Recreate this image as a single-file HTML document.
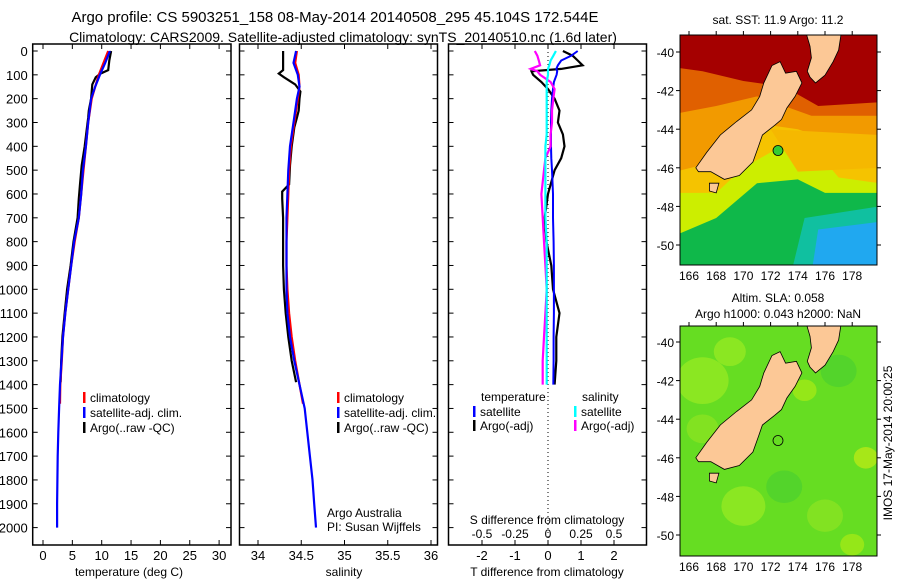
<!DOCTYPE html>
<html><head><meta charset="utf-8"><style>
html,body{margin:0;padding:0;background:#fff;}
svg text{font-family:"Liberation Sans",sans-serif;fill:#000;}
</style></head><body>
<svg id="fig" xmlns="http://www.w3.org/2000/svg" width="900" height="580" viewBox="0 0 900 580">
<text x="335" y="22" font-size="15" text-anchor="middle">Argo profile: CS 5903251_158 08-May-2014 20140508_295 45.104S 172.544E</text>
<text x="343" y="42" font-size="14" text-anchor="middle">Climatology: CARS2009. Satellite-adjusted climatology: synTS_20140510.nc (1.6d later)</text>
<g id="p1"></g>
<g id="p2"></g>
<g id="p3"></g>
<g id="m1"></g>
<g id="m2"></g>
<text x="778" y="24" font-size="12" text-anchor="middle">sat. SST: 11.9 Argo: 11.2</text>
<text x="778" y="302" font-size="12" text-anchor="middle">Altim. SLA: 0.058</text>
<text x="778" y="318" font-size="12" text-anchor="middle">Argo h1000: 0.043 h2000: NaN</text>
<text transform="translate(892,443) rotate(-90)" font-size="12" text-anchor="middle">IMOS 17-May-2014 20:00:25</text>
</svg>
<script>
// ---- data ----
const depthTicks=[0,100,200,300,400,500,600,700,800,900,1000,1100,1200,1300,1400,1500,1600,1700,1800,1900,2000];
const tempTicks=[0,5,10,15,20,25,30];
const salTicks=[34,34.5,35,35.5,36];
const tdiffTicks=[-2,-1,0,1,2];
const sdiffTicks=[-0.5,-0.25,0,0.25,0.5];
const sdiffLabels=["-0.5","-0.25","0","0.25","0.5"];
const climDepth=[0,50,100,150,200,300,400,500,600,700,800,900,1000,1100,1200,1300,1400,1480];
const climTemp=[11.1,10.3,9.5,8.9,8.3,7.7,7.3,6.9,6.5,6.1,5.4,4.8,4.3,3.8,3.4,3.2,2.95,2.9];
const climSal=[34.45,34.43,34.47,34.48,34.46,34.42,34.38,34.36,34.35,34.34,34.33,34.33,34.34,34.36,34.39,34.43,34.48,34.52];
const satDepth=[0,50,100,150,200,300,400,500,600,700,800,900,1000,1100,1200,1300,1400,1500,1600,1700,1800,1900,2000];
const satTemp=[11.4,10.6,9.7,8.9,8.2,7.7,7.3,6.8,6.5,6.1,5.3,4.8,4.3,3.8,3.4,3.15,2.9,2.75,2.6,2.5,2.45,2.4,2.4];
const satSal=[34.44,34.41,34.46,34.48,34.45,34.41,34.37,34.35,34.34,34.33,34.33,34.33,34.33,34.34,34.37,34.42,34.48,34.54,34.57,34.6,34.63,34.65,34.67];
const argoDepth=[0,40,80,95,110,140,170,200,250,280,320,400,480,560,590,620,700,800,900,1000,1100,1200,1300,1390];
const argoTemp=[11.6,11.3,11.1,9.8,9.0,8.4,8.3,8.2,7.8,7.7,7.5,7.1,6.6,6.3,6.2,6.1,5.9,5.2,4.7,4.1,3.7,3.3,3.1,3.0];
const argoSal=[34.29,34.29,34.29,34.24,34.3,34.43,34.49,34.48,34.47,34.45,34.42,34.39,34.37,34.36,34.28,34.28,34.29,34.29,34.29,34.3,34.32,34.35,34.39,34.44];
const dDepth=[0,20,40,60,75,85,100,130,160,200,250,300,350,400,450,500,600,700,800,900,1000,1100,1200,1300,1400];
const dTempArgo=[0.45,0.75,0.9,1.05,0.4,-0.5,-0.45,-0.2,0.0,0.2,0.35,0.3,0.45,0.5,0.4,0.2,0.0,-0.1,-0.05,0.1,0.15,0.35,0.25,0.25,0.2];
const dTempSat=[0.9,0.7,0.4,0.3,0.25,0.28,0.26,0.18,0.15,0.12,0.1,0.09,0.09,0.09,0.1,0.12,0.15,0.15,0.17,0.18,0.18,0.18,0.17,0.17,0.16];
const dSalSat=[0.06,0.04,0.02,0.01,0.0,0.0,0.0,-0.01,-0.01,-0.01,-0.01,-0.01,-0.01,-0.02,-0.02,-0.02,-0.02,-0.02,-0.01,-0.01,-0.01,-0.01,-0.01,-0.01,-0.01];
const dSalArgo=[-0.1,-0.08,-0.07,-0.06,-0.13,-0.08,-0.06,0.02,0.05,0.04,0.03,0.03,0.02,0.02,-0.02,-0.03,-0.05,-0.04,-0.03,-0.02,-0.01,-0.02,-0.03,-0.04,-0.04];
const latTicks=[-40,-42,-44,-46,-48,-50];
const lonTicks=[166,168,170,172,174,176,178];
const southIsland=[[166.5,-46.0],[167.3,-45.2],[168.3,-44.3],[169.5,-43.6],[170.6,-43.0],[171.2,-42.3],[171.5,-41.6],[172.1,-40.7],[172.7,-40.5],[173.1,-41.1],[173.9,-41.0],[174.3,-41.6],[173.8,-42.3],[173.2,-42.9],[172.8,-43.5],[172.3,-43.8],[171.4,-44.3],[171.1,-44.9],[170.7,-45.7],[169.7,-46.4],[168.6,-46.6],[167.6,-46.2],[166.7,-46.2]];
const northIsland=[[174.6,-39.0],[174.9,-39.7],[175.0,-40.3],[174.7,-41.0],[174.9,-41.3],[175.3,-41.6],[176.0,-41.2],[176.6,-40.5],[177.0,-39.9],[177.2,-39.0]];
const stewart=[[167.5,-46.8],[168.2,-46.8],[168.0,-47.3],[167.5,-47.2]];
const argoPos=[172.544,-45.104];

const NS="http://www.w3.org/2000/svg";
function el(parent,tag,attrs,text){const e=document.createElementNS(NS,tag);for(const k in attrs)e.setAttribute(k,attrs[k]);if(text!==undefined)e.textContent=text;parent.appendChild(e);return e;}
const top0=51, px100=23.83;
const yD=d=>top0+d*px100/100;
const ytop=44, ybot=545;

function frame(g,x0,x1,showLabels,name){
  const r=el(g,'rect',{x:x0,y:ytop,width:x1-x0,height:ybot-ytop,fill:'none',stroke:'#000','stroke-width':1.5});
  
  
  depthTicks.forEach(d=>{
    el(g,'line',{x1:x0,x2:x0+5,y1:yD(d),y2:yD(d),stroke:'#000'});
    el(g,'line',{x1:x1-5,x2:x1,y1:yD(d),y2:yD(d),stroke:'#000'});
    if(showLabels){const t=el(g,'text',{x:x0-5,y:yD(d)+5,'font-size':13,'text-anchor':'end'},String(d));
      
      }
  });
}
function xaxis(g,ticks,labels,fx,ty,tickTop,name){
  ticks.forEach((v,i)=>{
    const x=fx(v);
    el(g,'line',{x1:x,x2:x,y1:ybot-5,y2:ybot,stroke:'#000'});
    if(tickTop) el(g,'line',{x1:x,x2:x,y1:ytop,y2:ytop+5,stroke:'#000'});
    const t=el(g,'text',{x:x,y:ty,'font-size':13,'text-anchor':'middle'},labels[i]);
    
    
  });
}
function line(g,ds,vs,fx,color,w,name){
  const pts=ds.map((d,i)=>fx(vs[i]).toFixed(1)+','+yD(d).toFixed(1)).join(' ');
  const p=el(g,'polyline',{points:pts,fill:'none',stroke:color,'stroke-width':w});
  
  
}
function legend(g,x,y,color,label,name){
  el(g,'rect',{x:x,y:y-10,width:2.5,height:11,fill:color});
  const t=el(g,'text',{x:x+7,y:y,'font-size':12},label);
  
  
}
// panel 1
const p1=document.getElementById('p1');
const fT=v=>43+v*5.87;
frame(p1,32.7,231,true,'temperature-panel');
xaxis(p1,tempTicks,tempTicks.map(String),fT,560,true,'temperature-axis');
el(p1,'text',{x:129,y:576,'font-size':12,'text-anchor':'middle'},'temperature (deg C)');
line(p1,argoDepth,argoTemp,fT,'#000',2.2,'argo-temperature-line');
line(p1,climDepth,climTemp,fT,'#f00',2.2,'climatology-temperature-line');
line(p1,satDepth,satTemp,fT,'#00f',2.2,'satellite-temperature-line');
legend(p1,83,402,'#f00','climatology','legend-climatology');
legend(p1,83,417,'#00f','satellite-adj. clim.','legend-satellite');
legend(p1,83,432,'#000','Argo(..raw -QC)','legend-argo');
// panel 2
const p2=document.getElementById('p2');
const fS=v=>258+(v-34)*86.5;
frame(p2,239.5,437.5,false,'salinity-panel');
xaxis(p2,salTicks,salTicks.map(String),fS,560,true,'salinity-axis');
el(p2,'text',{x:344,y:576,'font-size':12,'text-anchor':'middle'},'salinity');
line(p2,argoDepth,argoSal,fS,'#000',2.2,'argo-salinity-line');
line(p2,climDepth,climSal,fS,'#f00',2.2,'climatology-salinity-line');
line(p2,satDepth,satSal,fS,'#00f',2.2,'satellite-salinity-line');
legend(p2,337,402,'#f00','climatology','legend-climatology-2');
legend(p2,337,417,'#00f','satellite-adj. clim.','legend-satellite-2');
legend(p2,337,432,'#000','Argo(..raw -QC)','legend-argo-2');
el(p2,'text',{x:327,y:517,'font-size':12},'Argo Australia');
el(p2,'text',{x:327,y:531,'font-size':12},'PI: Susan Wijffels');
// panel 3
const p3=document.getElementById('p3');
const fTd=v=>548+v*33;
const fSd=v=>548+v*132;
frame(p3,448.5,646.5,false,'difference-panel');
el(p3,'line',{x1:548,x2:548,y1:ytop,y2:ybot,stroke:'#000','stroke-dasharray':'1,3'});
tdiffTicks.forEach(v=>el(p3,'line',{x1:fTd(v),x2:fTd(v),y1:ytop,y2:ytop+5,stroke:'#000'}));
xaxis(p3,tdiffTicks,tdiffTicks.map(String),fTd,560,false,'t-diff-axis');
sdiffTicks.forEach((v,i)=>{const t=el(p3,'text',{x:fSd(v),y:538,'font-size':12,'text-anchor':'middle'},sdiffLabels[i]);
  
  });
el(p3,'text',{x:547,y:524,'font-size':12,'text-anchor':'middle'},'S difference from climatology');
el(p3,'text',{x:547,y:576,'font-size':12,'text-anchor':'middle'},'T difference from climatology');
line(p3,dDepth,dTempArgo,fTd,'#000',2.2,'argo-temp-diff-line');
line(p3,dDepth,dTempSat,fTd,'#00f',2,'satellite-temp-diff-line');
line(p3,dDepth,dSalArgo,fSd,'#f0f',2.2,'argo-sal-diff-line');
line(p3,dDepth,dSalSat,fSd,'#0ff',2.2,'satellite-sal-diff-line');
el(p3,'text',{x:481,y:401,'font-size':12},'temperature');
el(p3,'text',{x:582,y:401,'font-size':12},'salinity');
legend(p3,473,416,'#00f','satellite','legend-t-satellite');
legend(p3,473,430,'#000','Argo(-adj)','legend-t-argo');
legend(p3,574,416,'#0ff','satellite','legend-s-satellite');
legend(p3,574,430,'#f0f','Argo(-adj)','legend-s-argo');

// maps
function map(g,yTop,lat40y,kind){
  const x0=680,x1=877,h=230;
  const fx=lon=>689+(lon-166)*13.6;
  const fy=lat=>lat40y+(-40-lat)*19.3;
  const clipId='clip'+kind;
  const cp=el(g,'clipPath',{id:clipId});el(cp,'rect',{x:x0,y:yTop,width:x1-x0,height:h});
  const inner=el(g,'g',{'clip-path':'url(#'+clipId+')'});
  if(kind==='sst'){
    el(inner,'rect',{x:x0,y:yTop,width:x1-x0,height:h,fill:'#0fb84a'});
    const band=(pts,c)=>el(inner,'polygon',{points:pts.map(p=>fx(p[0])+','+fy(p[1])).join(' '),fill:c});
    band([[165,-39],[180,-39],[180,-47.3],[176,-47.3],[174,-46.6],[171,-46.8],[168,-48.6],[165,-49.5]],'#ccee00');
    band([[165,-39],[180,-39],[180,-46.8],[177,-46.5],[175,-44.8],[173,-44.8],[170,-46],[168,-47.3],[165,-47.3]],'#f5c300');
    band([[165,-39],[180,-39],[180,-45],[176,-44.5],[174,-44],[172,-43.8],[169,-45.5],[165,-46.2]],'#f29a00');
    band([[165,-39],[180,-39],[180,-43.3],[175,-43.3],[173,-42.8],[171,-42.3],[168,-42.8],[165,-43.2]],'#e06000');
    band([[165,-39],[180,-39],[180,-42.6],[175.5,-42.8],[173,-41.8],[170,-41.5],[167,-41.0],[165,-40.8]],'#a50000');
    band([[174.5,-48.6],[180,-48],[180,-51.5],[173.5,-51.5]],'#10c0a0');
    band([[175.5,-49.2],[180,-48.8],[180,-51.5],[175,-51.5]],'#20a8f0');
    band([[172,-44],[180,-44.3],[180,-46],[174,-46.2]],'#f5b800');
  } else {
    el(inner,'rect',{x:x0,y:yTop,width:x1-x0,height:h,fill:'#66dd22'});
    const blobs=[[167,-42,26,'#aaee22'],[170,-48.5,22,'#aaee22'],[174.5,-42.5,12,'#bbee11'],[179,-46,12,'#ddee11'],[167,-44.5,16,'#99e620'],[176,-49,18,'#99e622'],[177,-41.5,18,'#44cc33'],[173,-47.5,18,'#44cc33'],[169,-40.5,16,'#aaee22'],[178,-50.5,12,'#bbee11']];
    blobs.forEach(b=>el(inner,'ellipse',{cx:fx(b[0]),cy:fy(b[1]),rx:b[2],ry:b[2]*0.9,fill:b[3],opacity:0.55}));
  }
  [southIsland,northIsland,stewart].forEach(poly=>{
    el(inner,'polygon',{points:poly.map(p=>fx(p[0]).toFixed(1)+','+fy(p[1]).toFixed(1)).join(' '),fill:'#fcc896',stroke:'#000','stroke-width':0.8});
  });
  el(inner,'circle',{cx:fx(argoPos[0]),cy:fy(argoPos[1]),r:5,fill:kind==='sst'?'#33cc33':'none',stroke:'#000','stroke-width':0.8});
  const fr=el(g,'rect',{x:x0,y:yTop,width:x1-x0,height:h,fill:'none',stroke:'#000','stroke-width':1});
  
  
  latTicks.forEach(l=>{
    el(g,'line',{x1:x0-4,x2:x0,y1:fy(l),y2:fy(l),stroke:'#000'});
    el(g,'line',{x1:x1,x2:x1+4,y1:fy(l),y2:fy(l),stroke:'#000'});
    const t=el(g,'text',{x:x0-6,y:fy(l)+5,'font-size':12,'text-anchor':'end'},String(l));
    
    
  });
  lonTicks.forEach(l=>{
    el(g,'line',{x1:fx(l),x2:fx(l),y1:yTop-4,y2:yTop,stroke:'#000'});
    const t=el(g,'text',{x:fx(l),y:yTop+h+15,'font-size':12,'text-anchor':'middle'},String(l));
    
    
  });
}
map(document.getElementById('m1'),35,52,'sst');
map(document.getElementById('m2'),326,342,'sla');
</script>
</body></html>
